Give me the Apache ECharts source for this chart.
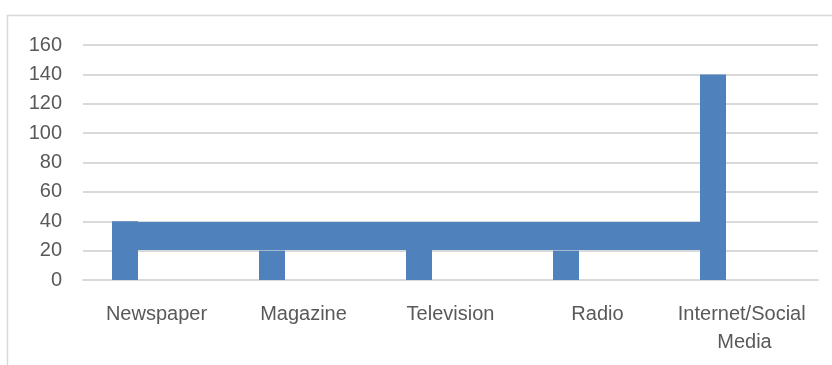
<!DOCTYPE html>
<html>
<head>
<meta charset="utf-8">
<style>
  html, body { margin: 0; padding: 0; background: #ffffff; }
  #chart { width: 832px; height: 365px; }
</style>
<script src="https://cdn.jsdelivr.net/npm/echarts@6/dist/echarts.min.js"></script>
</head>
<body>
<div id="chart"></div>
<script>
// Media categories and their values
const categories = ['Newspaper', 'Magazine', 'Television', 'Radio', 'Internet/Social Media'];
const mediaValues = [40, 20, 30, 20, 140];
const secondValues = [null, null, null, null, null];
const bandValues = [30, 30, 30, 30, 30];
const yTicks = { min: 0, max: 160, interval: 20 };

// Layout constants
const W = 832, H = 365;
const gridLeft = 83, gridRight = 14, gridTop = 45, gridBottom = 85;
const barW = 26, barGapPx = 37;
const BLUE = '#4F81BD';
const TEXT = '#595959';
const GRID = '#d9d9d9';
const FONT = '"Liberation Sans", Arial, sans-serif';

// Horizontal offset of the first bar in each cluster, in category units
const bandPx = (W - gridLeft - gridRight) / categories.length;
const shift = (barW + barGapPx) / 2 / bandPx;
const bandData = bandValues.map((v, i) => [i - shift, v]);

const chart = echarts.init(document.getElementById('chart'), null, { renderer: 'canvas' });
chart.setOption({
  animation: false,
  backgroundColor: '#ffffff',
  textStyle: { fontFamily: FONT },
  graphic: [{
    type: 'rect',
    shape: { x: 7.5, y: 15.5, width: 900, height: 400 },
    style: { fill: 'none', stroke: GRID, lineWidth: 1.5 },
    silent: true, z: -10
  }],
  grid: { left: gridLeft, right: gridRight, top: gridTop, bottom: gridBottom, containLabel: false },
  xAxis: [{
    type: 'category',
    data: categories,
    axisLine: { show: true, lineStyle: { color: GRID, width: 2 } },
    axisTick: { show: false },
    axisLabel: {
      color: TEXT, fontSize: 20, fontFamily: FONT, margin: 20,
      lineHeight: 28, width: 140, overflow: 'break', interval: 0
    },
    splitLine: { show: false }
  }, {
    type: 'value',
    min: -0.5, max: 4.5,
    show: false
  }],
  yAxis: {
    type: 'value',
    min: yTicks.min, max: yTicks.max, interval: yTicks.interval,
    axisLine: { show: false },
    axisTick: { show: false },
    axisLabel: { color: TEXT, fontSize: 20, fontFamily: FONT, margin: 21 },
    splitLine: { lineStyle: { color: GRID, width: 2 } }
  },
  series: [
    {
      name: 'Band',
      type: 'line',
      xAxisIndex: 1,
      data: bandData,
      symbol: 'none',
      lineStyle: { color: BLUE, width: 28, cap: 'butt' },
      z: 1
    },
    {
      name: 'Media',
      type: 'bar',
      data: mediaValues,
      barWidth: barW,
      barGap: (barGapPx / barW * 100) + '%',
      itemStyle: { color: BLUE },
      z: 2
    },
    {
      name: 'Other',
      type: 'bar',
      data: secondValues,
      barWidth: barW,
      itemStyle: { color: '#C0504D' },
      z: 2
    }
  ]
});
</script>
</body>
</html>
